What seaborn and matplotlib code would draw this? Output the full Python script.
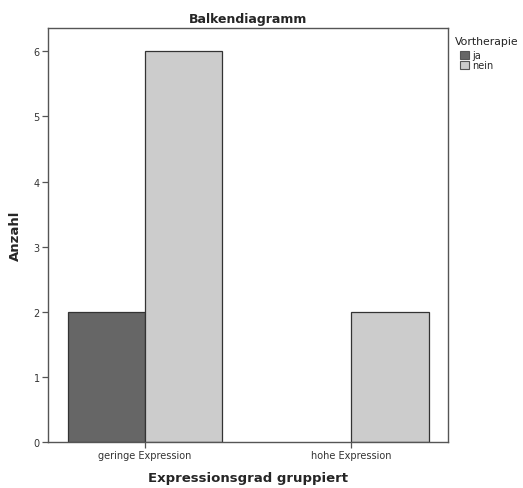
import numpy as np
import pandas as pd
import seaborn as sns
import matplotlib.pyplot as plt
from matplotlib.patches import Patch

groups = ['geringe Expression', 'hohe Expression']
therapy = ['ja', 'nein']
count_ja = [2, 0]
count_nein = [6, 2]

df = pd.DataFrame({
    'Expressionsgrad gruppiert': groups * 2,
    'Vortherapie': ['ja'] * len(groups) + ['nein'] * len(groups),
    'Anzahl': count_ja + count_nein,
})

sns.set_style('white')
plt.rcParams['font.family'] = ['DejaVu Sans']

fig = plt.figure(figsize=(5.23, 4.89), dpi=100)
ax = fig.add_axes([0.0918, 0.094, 0.765, 0.847])

pal = {'ja': '#666666', 'nein': '#cccccc'}
sns.barplot(data=df, x='Expressionsgrad gruppiert', y='Anzahl', hue='Vortherapie',
            hue_order=therapy, palette=pal, width=0.75, saturation=1,
            edgecolor='#333333', linewidth=0.9, ax=ax, legend=False)

# empty bars (height 0) should not leave an outline on the baseline
for p in ax.patches:
    if p.get_height() == 0:
        p.set_visible(False)

ax.set_xlim(-0.47, 1.47)
ax.set_ylim(0, 6.36)
ax.set_yticks(range(0, 7))
for s in ax.spines.values():
    s.set_color('#555555')
    s.set_linewidth(1.0)
ax.tick_params(axis='both', length=4, width=0.9, color='#555555',
               labelsize=7, labelcolor='#333333', direction='out', pad=2)
ax.tick_params(left=True, bottom=True)

ax.set_title('Balkendiagramm', fontsize=9, fontweight='bold', pad=4)
ax.set_xlabel('Expressionsgrad gruppiert', fontsize=9.5, fontweight='bold', labelpad=8)
ax.set_ylabel('Anzahl', fontsize=9.5, fontweight='bold', labelpad=8)

fig.text(0.869, 1 - 42 / 489, 'Vortherapie', fontsize=7.8, va='center', ha='left',
         color='#222222')
handles = [Patch(facecolor=pal[t], edgecolor='#555555', linewidth=0.8) for t in therapy]
fig.legend(handles, therapy, loc='upper left',
           bbox_to_anchor=(0.876, 1 - 49 / 489), frameon=False, fontsize=7,
           handlelength=0.9, handleheight=0.9, handletextpad=0.3,
           labelspacing=0.05, borderpad=0.2, borderaxespad=0)

fig.savefig('out.png', dpi=100)
